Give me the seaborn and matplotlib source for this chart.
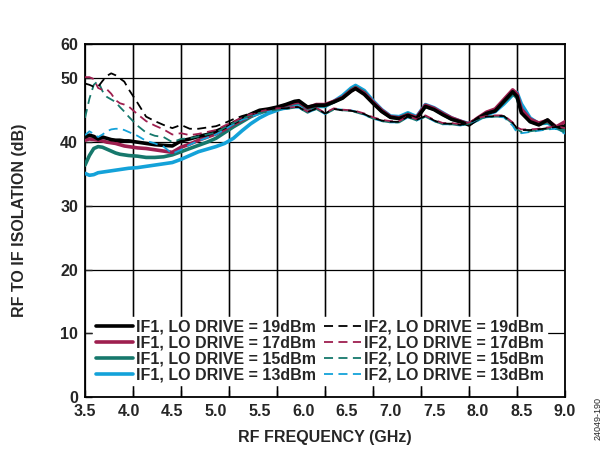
import numpy as np
import pandas as pd
import seaborn as sns
import matplotlib.pyplot as plt
from matplotlib.lines import Line2D

# frequency grid (GHz)
freq = [3.5, 3.55, 3.6, 3.65, 3.7, 3.75, 3.8, 3.85, 3.9, 3.95, 4.0, 4.1, 4.2, 4.3, 4.4,
        4.5, 4.6, 4.7, 4.8, 4.9, 5.0, 5.1, 5.2, 5.3, 5.4, 5.5, 5.6, 5.7, 5.8, 5.9, 5.95,
        6.05, 6.15, 6.25, 6.35, 6.45, 6.55, 6.6, 6.7, 6.8, 6.9, 7.0, 7.1, 7.2, 7.3, 7.4,
        7.5, 7.6, 7.7, 7.8, 7.9, 8.0, 8.1, 8.2, 8.3, 8.4, 8.45, 8.5, 8.6, 8.7, 8.8, 8.9, 9.0]

if1_19 = [40.8, 41.1, 40.9, 40.5, 40.8, 40.6, 40.4, 40.3, 40.3, 40.2, 40.2, 40.0, 39.8, 39.6, 39.5,
          39.4, 40.2, 40.5, 40.9, 41.2, 41.7, 42.3, 43.0, 43.7, 44.4, 45.0, 45.2, 45.5, 45.9, 46.4, 46.5,
          45.5, 45.8, 45.8, 46.3, 46.9, 48.0, 48.4, 47.5, 46.1, 44.8, 43.9, 43.7, 44.2, 43.7, 45.6,
          45.1, 44.3, 43.6, 43.2, 42.7, 43.7, 44.5, 44.9, 46.4, 47.9, 47.2, 44.6, 43.2, 42.7, 43.5, 42.2, 42.5]
if1_17 = [40.3, 40.5, 40.4, 40.3, 40.2, 40.0, 39.9, 39.8, 39.6, 39.4, 39.3, 39.1, 39.0, 38.8, 38.6,
          38.4, 39.2, 39.7, 40.3, 40.8, 41.3, 42.0, 42.8, 43.5, 44.2, 44.8, 45.1, 45.4, 45.8, 46.2, 46.3,
          45.4, 45.9, 45.9, 46.4, 47.0, 48.1, 48.5, 47.7, 46.3, 45.0, 44.0, 43.8, 44.3, 43.9, 45.8,
          45.3, 44.5, 43.8, 43.3, 42.8, 43.8, 44.7, 45.2, 46.7, 48.2, 47.6, 45.2, 43.6, 43.0, 43.4, 42.4, 43.2]
if1_15 = [36.4, 37.9, 39.0, 39.3, 39.2, 38.9, 38.6, 38.3, 38.1, 38.0, 37.9, 37.8, 37.6, 37.6, 37.7,
          38.0, 38.5, 39.0, 39.5, 40.0, 40.6, 41.5, 42.4, 43.2, 44.0, 44.6, 45.0, 45.3, 45.7, 46.1, 46.2,
          45.3, 45.7, 45.7, 46.3, 47.0, 48.2, 48.6, 47.8, 46.2, 44.9, 43.9, 43.8, 44.4, 43.8, 45.6,
          45.2, 44.4, 43.6, 43.2, 42.8, 43.6, 44.6, 45.0, 46.3, 47.6, 47.0, 45.0, 43.3, 42.8, 43.2, 42.3, 42.0]
if1_13 = [35.1, 34.8, 34.9, 35.2, 35.3, 35.4, 35.5, 35.6, 35.7, 35.8, 35.9, 36.0, 36.2, 36.4, 36.6,
          36.8, 37.3, 37.9, 38.5, 38.9, 39.3, 39.8, 40.6, 41.8, 42.9, 43.8, 44.5, 45.0, 45.5, 45.9, 46.0,
          45.2, 45.6, 45.6, 46.4, 47.3, 48.5, 48.9, 48.1, 46.5, 45.1, 44.1, 44.0, 44.6, 44.0, 45.9,
          45.4, 44.6, 43.8, 43.3, 42.9, 43.5, 44.3, 44.8, 46.0, 47.4, 47.8, 46.0, 43.8, 42.9, 43.0, 42.3, 41.6]

if2_19 = [49.2, 49.0, 48.7, 48.7, 49.6, 50.4, 50.8, 50.5, 50.0, 49.5, 48.3, 46.2, 44.0, 43.3, 42.7,
          42.2, 42.7, 42.1, 42.1, 42.3, 42.5, 43.0, 43.6, 44.1, 44.5, 45.0, 45.2, 45.3, 45.3, 45.5, 45.5,
          44.7, 45.3, 44.5, 45.2, 45.0, 44.9, 44.8, 44.4, 43.8, 43.4, 43.2, 43.2, 44.0, 43.5, 44.1,
          43.4, 42.9, 42.9, 42.7, 43.0, 43.7, 44.0, 44.1, 44.1, 43.0, 42.2, 41.9, 41.9, 42.0, 42.2, 42.4, 41.9]
if2_17 = [50.2, 50.2, 49.9, 48.5, 48.2, 48.3, 47.6, 46.6, 46.1, 45.9, 45.6, 44.4, 43.3, 42.6, 42.0,
          41.2, 41.4, 41.1, 41.3, 41.6, 41.9, 42.6, 43.2, 43.9, 44.4, 44.8, 45.1, 45.3, 45.4, 45.5, 45.6,
          44.8, 45.4, 44.6, 45.3, 45.1, 45.0, 44.9, 44.5, 43.9, 43.5, 43.3, 43.3, 44.1, 43.6, 44.2,
          43.5, 43.0, 43.0, 42.8, 43.1, 43.8, 44.1, 44.2, 44.2, 43.1, 42.3, 42.0, 42.0, 42.1, 42.3, 42.5, 42.2]
if2_15 = [43.8, 46.8, 49.0, 49.6, 48.0, 47.1, 46.7, 46.3, 45.5, 44.8, 44.0, 42.6, 41.5, 41.0, 40.8,
          40.0, 40.5, 40.6, 40.9, 41.2, 41.5, 42.3, 43.0, 43.7, 44.2, 44.6, 44.9, 45.1, 45.2, 45.4, 45.4,
          44.6, 45.2, 44.4, 45.1, 45.0, 44.9, 44.7, 44.3, 43.7, 43.3, 43.1, 43.1, 43.9, 43.4, 44.0,
          43.3, 42.8, 42.8, 42.6, 42.9, 43.6, 43.9, 44.0, 44.0, 42.9, 42.0, 41.6, 41.7, 41.9, 42.1, 42.2, 41.5]
if2_13 = [41.1, 41.7, 41.3, 40.8, 41.2, 41.7, 42.0, 42.1, 42.1, 41.9, 41.6, 41.0, 40.2, 39.8, 39.3,
          38.2, 38.8, 39.6, 40.2, 40.7, 41.2, 42.0, 42.8, 43.5, 44.0, 44.4, 44.8, 45.0, 45.2, 45.4, 45.4,
          44.6, 45.2, 44.4, 45.2, 45.1, 45.0, 44.8, 44.3, 43.7, 43.3, 43.1, 43.1, 43.9, 43.4, 44.0,
          43.3, 42.8, 42.8, 42.6, 42.9, 43.6, 43.9, 44.0, 43.9, 42.6, 41.5, 41.4, 41.6, 41.8, 42.0, 42.1, 41.3]

x_ticks = [3.5, 4.0, 4.5, 5.0, 5.5, 6.0, 6.5, 7.0, 7.5, 8.0, 8.5, 9.0]
y_labels = ['0', '10', '20', '30', '40', '50', '60']

black = '#000000'
maroon = '#9e1f4f'
teal = '#16786c'
cyan = '#14a2d9'

series = [
    ('IF1, LO DRIVE = 13dBm', if1_13, cyan, '-'),
    ('IF1, LO DRIVE = 15dBm', if1_15, teal, '-'),
    ('IF1, LO DRIVE = 17dBm', if1_17, maroon, '-'),
    ('IF1, LO DRIVE = 19dBm', if1_19, black, '-'),
    ('IF2, LO DRIVE = 13dBm', if2_13, cyan, '--'),
    ('IF2, LO DRIVE = 15dBm', if2_15, teal, '--'),
    ('IF2, LO DRIVE = 17dBm', if2_17, maroon, '--'),
    ('IF2, LO DRIVE = 19dBm', if2_19, black, '--'),
]

sns.set_style('white')
plt.rcParams['font.family'] = ['Liberation Sans', 'DejaVu Sans']
plt.rcParams['font.weight'] = 'bold'

fig = plt.figure(figsize=(6.13, 4.51), dpi=100)
ax = fig.add_axes([0.1387, 0.1197, 0.7830, 0.7827])

handles = {}
for name, vals, col, ls in series:
    df = pd.DataFrame({'freq': freq, 'iso': vals})
    if ls == '-':
        sns.lineplot(data=df, x='freq', y='iso', ax=ax, color=col, lw=2.6, sort=False, zorder=3)
        handles[name] = Line2D([], [], color=col, lw=2.6)
    else:
        sns.lineplot(data=df, x='freq', y='iso', ax=ax, color=col, lw=1.3, sort=False, zorder=4)
        ax.lines[-1].set_dashes((5, 3))
        handles[name] = Line2D([], [], color=col, lw=1.3, dashes=(5, 3))

# x: grid/ticks at 10 equal divisions (major), labels every 0.5 GHz (minor, no tick mark)
ymax = 55.4
grid_x = np.linspace(3.5, 9.0, 11)
ax.set_xlim(3.5, 9.0)
ax.set_ylim(0, ymax)
ax.xaxis.remove_overlapping_locs = False
ax.set_xticks(grid_x)
ax.set_xticklabels([])
ax.set_xticks(x_ticks, minor=True)
ax.set_xticklabels([f'{v:.1f}' for v in x_ticks], minor=True)
ax.set_yticks([0, 10, 20, 30, 40, 50, ymax])
ax.set_yticklabels(y_labels)
ax.tick_params(axis='x', which='major', direction='in', length=5, width=1, bottom=True)
ax.tick_params(axis='x', which='minor', length=0, pad=5, labelsize=11.5)
ax.tick_params(axis='y', direction='in', length=5, width=1, left=True, pad=5, labelsize=11.5)
ax.grid(True, which='major', color='black', lw=0.9)
# vertical grid also as a line collection
ax.vlines(grid_x[1:-1], 0, ymax, colors='black', linewidths=1.0, zorder=2)
for s in ax.spines.values():
    s.set_color('black')
    s.set_linewidth(1.3)

ax.set_xlabel('RF FREQUENCY (GHz)', fontsize=11.5, fontweight='bold', labelpad=8)
ax.set_ylabel('RF TO IF ISOLATION (dB)', fontsize=11.5, fontweight='bold', labelpad=24)

order = ['IF1, LO DRIVE = 19dBm', 'IF1, LO DRIVE = 17dBm', 'IF1, LO DRIVE = 15dBm', 'IF1, LO DRIVE = 13dBm',
         'IF2, LO DRIVE = 19dBm', 'IF2, LO DRIVE = 17dBm', 'IF2, LO DRIVE = 15dBm', 'IF2, LO DRIVE = 13dBm']
leg = ax.legend([handles[k] for k in order], order, ncol=2, loc='lower center',
                bbox_to_anchor=(0.49, 0.01), frameon=True, fancybox=False, framealpha=1,
                edgecolor='white', prop={'size': 11.5, 'weight': 'bold'},
                handlelength=2.3, handletextpad=0.2, columnspacing=0.5, labelspacing=0.05,
                borderpad=0.2)
leg.set_zorder(5)

fig.text(0.975, 0.025, '24049-190', rotation=90, fontsize=6.5, fontweight='normal',
         ha='center', va='bottom')

fig.savefig('out.png', dpi=100)
